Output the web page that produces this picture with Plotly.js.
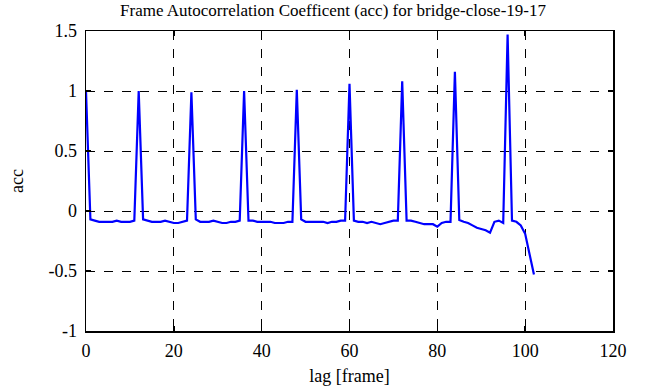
<!DOCTYPE html>
<html><head><meta charset="utf-8">
<script src="https://cdn.plot.ly/plotly-3.0.1.min.js"></script>
<style>body{margin:0;background:#fff}#chart{width:666px;height:387px}</style>
</head><body><div id="chart"></div>
<script>
const lag = [];
for (let i = 0; i <= 102; i++) lag.push(i);
const acc = [
 1.00,-0.07,-0.08,-0.09,-0.09,-0.09,-0.09,-0.08,-0.09,-0.09,-0.09,-0.08,
 1.00,-0.07,-0.08,-0.09,-0.09,-0.09,-0.08,-0.09,-0.10,-0.10,-0.09,-0.08,
 0.99,-0.07,-0.09,-0.09,-0.09,-0.08,-0.09,-0.10,-0.10,-0.09,-0.09,-0.08,
 1.00,-0.08,-0.08,-0.09,-0.09,-0.09,-0.09,-0.10,-0.10,-0.10,-0.09,-0.09,
 1.01,-0.07,-0.09,-0.09,-0.09,-0.09,-0.09,-0.10,-0.09,-0.09,-0.08,-0.08,
 1.06,-0.08,-0.09,-0.09,-0.10,-0.09,-0.10,-0.11,-0.10,-0.09,-0.08,-0.08,
 1.08,-0.08,-0.08,-0.09,-0.10,-0.11,-0.11,-0.11,-0.13,-0.10,-0.09,-0.09,
 1.16,-0.075,-0.09,-0.10,-0.12,-0.14,-0.15,-0.16,-0.18,-0.09,-0.08,-0.10,
 1.47,-0.08,-0.09,-0.12,-0.19,-0.35,-0.53
];
const xTicks = [0,20,40,60,80,100,120];
const yTicks = [-1,-0.5,0,0.5,1,1.5];
const yTickText = ['-1','-0.5','0','0.5','1','1.5'];

const font = {family:'Liberation Serif', size:18, color:'#000'};
const axisCommon = {
  showline:true, linecolor:'#000', linewidth:1.5, mirror:'ticks',
  ticks:'inside', ticklen:5, tickwidth:1.5, tickcolor:'#000',
  showgrid:true, gridcolor:'#000', gridwidth:1, griddash:'dash',
  zeroline:false, tickfont:font
};
Plotly.newPlot('chart', [{
  x: lag, y: acc, type:'scatter', mode:'lines',
  line:{color:'#0000ff', width:2.2}
}], {
  width:666, height:387,
  margin:{l:86, r:53, t:31, b:56},
  paper_bgcolor:'#fff', plot_bgcolor:'#fff',
  showlegend:false,
  font: font,
  title:{text:'Frame Autocorrelation Coefficent (acc) for bridge-close-19-17', font:{family:'Liberation Serif', size:17, color:'#000'}, x:0.5, xanchor:'center', y:0.99, yanchor:'top'},
  xaxis:{...axisCommon, range:[0,120], tickvals:xTicks, ticktext:xTicks.map(String),
    ticklabelstandoff:3,
    title:{text:'lag [frame]', font:font, standoff:9}},
  yaxis:{...axisCommon, range:[-1,1.5], tickvals:yTicks, ticktext:yTickText,
    ticklabelstandoff:4,
    title:{text:'acc', font:font, standoff:20}}
}, {displayModeBar:false, staticPlot:true});
</script></body></html>
